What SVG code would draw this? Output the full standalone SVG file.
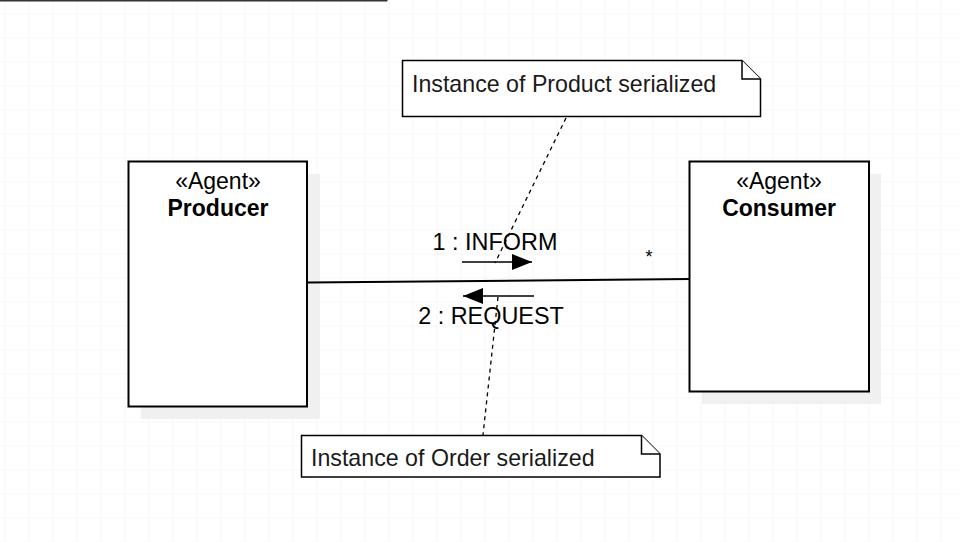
<svg xmlns="http://www.w3.org/2000/svg" width="960" height="542" viewBox="0 0 960 542">
<defs>
<pattern id="grid" x="4.5" y="13.5" width="24" height="24" patternUnits="userSpaceOnUse">
<path d="M0 0H24M0 0V24" fill="none" stroke="#efefef" stroke-width="1"/>
</pattern>
<marker id="head" viewBox="0 0 20 16" refX="20" refY="8" markerWidth="20" markerHeight="16" markerUnits="userSpaceOnUse" orient="auto">
<path d="M0 0L20 8L0 16Z" fill="#000"/>
</marker>
</defs>
<style>
.box{fill:#fff;stroke:#000;stroke-width:2}
.shadow{fill:#f0f0f0}
.note{fill:#fff;stroke:#000;stroke-width:1.5}
.t{font-family:"Liberation Sans",Arial,sans-serif;fill:#000}
.st{font-size:23px;text-anchor:middle}
.nm{font-size:23px;font-weight:bold;text-anchor:middle}
.nt{font-size:23.2px;fill:#1a1a1a}
.lbl{font-size:23.4px;text-anchor:middle}
.dash{stroke:#000;stroke-width:1.3;stroke-dasharray:4 4;fill:none}
</style>
<rect width="960" height="542" fill="#fff"/>
<rect width="960" height="542" fill="url(#grid)"/>
<line x1="0" y1="0.5" x2="387.5" y2="0.5" stroke="#333" stroke-width="2"/>

<g id="producer">
<rect class="shadow" x="141" y="174" width="179" height="245"/>
<rect class="box" x="128.5" y="161.5" width="178.5" height="245"/>
<text class="t st" x="218" y="189">«Agent»</text>
<text class="t nm" x="218" y="216">Producer</text>
</g>

<g id="consumer">
<rect class="shadow" x="702" y="174" width="179" height="230"/>
<rect class="box" x="689.5" y="161.5" width="179.5" height="230"/>
<text class="t st" x="779" y="189">«Agent»</text>
<text class="t nm" x="779" y="216">Consumer</text>
</g>

<g id="note-product">
<path class="note" d="M402.5 60.5H742L760.5 79V116.5H402.5Z"/>
<path class="note" d="M742 60.5V79H760.5"/>
<text class="t nt" x="412" y="92">Instance of Product serialized</text>
</g>

<g id="note-order">
<path class="note" d="M301.5 435.5H641.5L660 454V477H301.5Z"/>
<path class="note" d="M641.5 435.5V454H660"/>
<text class="t nt" x="311" y="466">Instance of Order serialized</text>
</g>

<g id="connectors">
<line x1="308" y1="282.5" x2="689.5" y2="279" stroke="#000" stroke-width="2"/>
<line x1="462" y1="262" x2="532" y2="262" stroke="#000" stroke-width="1.5" marker-end="url(#head)"/>
<line x1="534" y1="296" x2="463" y2="296" stroke="#000" stroke-width="1.5" marker-end="url(#head)"/>
<line class="dash" x1="566" y1="118" x2="495" y2="263"/>
<line class="dash" x1="498" y1="297" x2="483" y2="435"/>
<text class="t lbl" x="495" y="250">1 : INFORM</text>
<text class="t lbl" x="491" y="324">2 : REQUEST</text>
<text class="t" x="649" y="263" font-size="18" text-anchor="middle">*</text>
</g>
</svg>
